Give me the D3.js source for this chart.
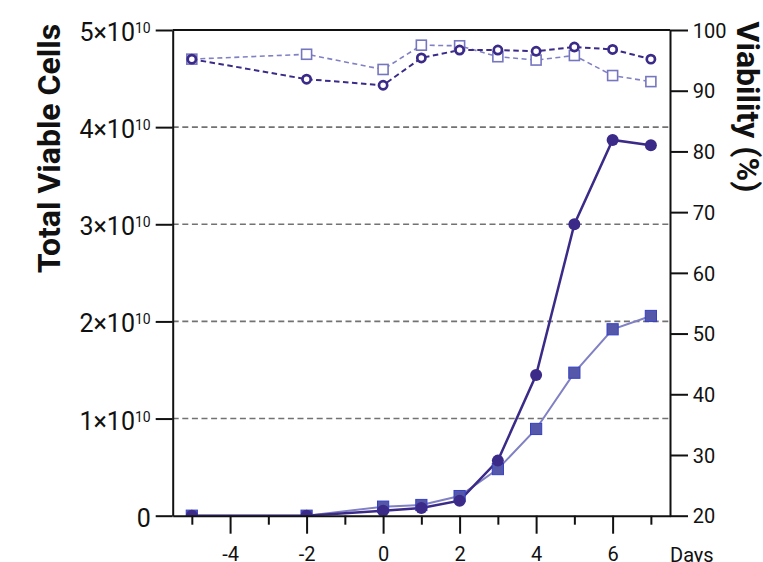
<!DOCTYPE html>
<html>
<head>
<meta charset="utf-8">
<script src="https://cdn.jsdelivr.net/npm/d3@7"></script>
<style>
  html, body { margin: 0; padding: 0; background: #fff; }
  svg { display: block; font-family: Roboto, "Liberation Sans", Arial, sans-serif; }
</style>
</head>
<body>
<svg id="chart" width="763" height="562"></svg>
<script>
// Culture days
const days = [-5, -2, 0, 1, 2, 3, 4, 5, 6, 7];
// Total viable cells (cells), two cultures
const tvcCircle = [0, 0, 0.05e10, 0.08e10, 0.155e10, 0.567e10, 1.448e10, 3.0e10, 3.868e10, 3.813e10];
const tvcSquare = [0, 0, 0.093e10, 0.11e10, 0.202e10, 0.48e10, 0.893e10, 1.472e10, 1.919e10, 2.056e10];
// Viability (%), same two cultures
const viaCircle = [95.2, 91.9, 90.9, 95.4, 96.7, 96.7, 96.5, 97.2, 96.8, 95.2];
const viaSquare = [95.2, 96.0, 93.5, 97.5, 97.4, 95.6, 95.05, 95.8, 92.5, 91.5];
// Tick values
const dayMajorTicks = [-4, -2, 0, 2, 4, 6];
const dayMinorTicks = [-5, -3, -1, 1, 3, 5, 7];
const cellTicks = [0, 1e10, 2e10, 3e10, 4e10, 5e10];
const gridTicks = [1e10, 2e10, 3e10, 4e10];
const viaTicks = [20, 30, 40, 50, 60, 70, 80, 90, 100];

const C_DARK = "#3b2a88";
const C_SQ_FILL = "#5558a8";
const C_SQ_EDGE = "#3540c8";
const C_SQ_LINE = "#8080c4";
const C_SQ_OPEN = "#7676c0";

const svg = d3.select("#chart");
const plotL = 172.7, plotR = 670, plotT = 30, plotB = 515.7;

const x = d3.scaleLinear().domain([-5.5, 7.5]).range([plotL, plotR]);
const yL = d3.scaleLinear().domain([0, 5e10]).range([plotB, plotT]);
const yR = d3.scaleLinear().domain([20, 100]).range([plotB, plotT]);

svg.append("defs").append("clipPath").attr("id", "plotClip")
  .append("rect").attr("x", plotL).attr("y", plotT)
  .attr("width", plotR - plotL).attr("height", plotB - plotT);

// Dashed gridlines
svg.append("g").selectAll("line").data(gridTicks).join("line")
  .attr("x1", plotL).attr("x2", plotR)
  .attr("y1", d => yL(d)).attr("y2", d => yL(d))
  .attr("stroke", "#727272").attr("stroke-width", 1.6)
  .attr("stroke-dasharray", "6,3.6");

// Top frame
svg.append("line").attr("x1", plotL).attr("x2", plotR).attr("y1", plotT).attr("y2", plotT)
  .attr("stroke", "#111").attr("stroke-width", 2);

const plot = svg.append("g").attr("clip-path", "url(#plotClip)");

// Viability series (right axis), dashed with open markers
const idx = d3.range(days.length);
const lineVia = arr => d3.line().x(i => x(days[i])).y(i => yR(arr[i]));
plot.append("path").datum(idx).attr("d", lineVia(viaSquare))
  .attr("fill", "none").attr("stroke", C_SQ_LINE).attr("stroke-width", 1.6)
  .attr("stroke-dasharray", "5,3.5");
plot.append("path").datum(idx).attr("d", lineVia(viaCircle))
  .attr("fill", "none").attr("stroke", C_DARK).attr("stroke-width", 2)
  .attr("stroke-dasharray", "5.5,3.5");
plot.append("g").selectAll("rect").data(idx).join("rect")
  .attr("x", i => x(days[i]) - 5).attr("y", i => yR(viaSquare[i]) - 5)
  .attr("width", 10).attr("height", 10)
  .attr("fill", "#fff").attr("stroke", C_SQ_OPEN).attr("stroke-width", 1.6);
plot.append("g").selectAll("circle").data(idx).join("circle")
  .attr("cx", i => x(days[i])).attr("cy", i => yR(viaCircle[i])).attr("r", 4.1)
  .attr("fill", "#fff").attr("stroke", C_DARK).attr("stroke-width", 2.7);

// Total viable cells (left axis), solid with filled markers
const lineTvc = arr => d3.line().x(i => x(days[i])).y(i => yL(arr[i]));
plot.append("path").datum(idx).attr("d", lineTvc(tvcSquare))
  .attr("fill", "none").attr("stroke", C_SQ_LINE).attr("stroke-width", 2);
plot.append("path").datum(idx).attr("d", lineTvc(tvcCircle))
  .attr("fill", "none").attr("stroke", C_DARK).attr("stroke-width", 2.5);
plot.append("g").selectAll("rect").data(idx).join("rect")
  .attr("x", i => x(days[i]) - 5.6).attr("y", i => yL(tvcSquare[i]) - 5.6)
  .attr("width", 11.2).attr("height", 11.2)
  .attr("fill", C_SQ_FILL).attr("stroke", C_SQ_EDGE).attr("stroke-width", 1);
plot.append("g").selectAll("circle").data(idx).join("circle")
  .attr("cx", i => x(days[i])).attr("cy", i => yL(tvcCircle[i])).attr("r", 6)
  .attr("fill", C_DARK);

// X axis: long ticks with labels on even days, short ticks on odd days
const xMajor = svg.append("g").attr("transform", `translate(0,${plotB})`)
  .call(d3.axisBottom(x).tickValues(dayMajorTicks).tickSize(18).tickSizeOuter(0)
    .tickFormat(d => d));
const xMinor = svg.append("g").attr("transform", `translate(0,${plotB})`)
  .call(d3.axisBottom(x).tickValues(dayMinorTicks).tickSize(9).tickSizeOuter(0)
    .tickFormat(""));
xMinor.select(".domain").remove();
[xMajor, xMinor].forEach(g => {
  g.select(".domain").attr("stroke", "#111").attr("stroke-width", 2);
  g.selectAll(".tick line").attr("stroke", "#111").attr("stroke-width", 2);
});
xMajor.selectAll(".tick text")
  .attr("y", 45.5).attr("dy", null)
  .attr("font-size", 20).attr("font-family", "Roboto, sans-serif").attr("fill", "#111");
svg.append("text").attr("x", 670).attr("y", 561.5)
  .attr("font-size", 20).attr("fill", "#111").text("Days");

// Left axis: Total Viable Cells
const yLeft = svg.append("g").attr("transform", `translate(${plotL},0)`)
  .call(d3.axisLeft(yL).tickValues(cellTicks).tickSize(17).tickSizeOuter(0).tickFormat(""));
yLeft.select(".domain").attr("stroke", "#111").attr("stroke-width", 2);
yLeft.selectAll(".tick line").attr("stroke", "#111").attr("stroke-width", 2);
yLeft.selectAll(".tick").each(function(d) {
  const t = d3.select(this).append("text")
    .attr("x", -22).attr("y", 10.5).attr("text-anchor", "end")
    .attr("font-size", 25).attr("fill", "#111").attr("font-family", "Roboto, sans-serif");
  if (d === 0) {
    t.text("0");
  } else {
    t.append("tspan").text(`${d / 1e10}×10`);
    t.append("tspan").attr("font-size", 14).attr("dy", -8).text("10");
  }
});

// Right axis: Viability (%)
const yRight = svg.append("g").attr("transform", `translate(${plotR},0)`)
  .call(d3.axisRight(yR).tickValues(viaTicks).tickSize(18).tickSizeOuter(0));
yRight.select(".domain").attr("stroke", "#111").attr("stroke-width", 2);
yRight.selectAll(".tick line").attr("stroke", "#111").attr("stroke-width", 2);
yRight.selectAll(".tick text")
  .attr("x", 22.7).attr("dy", null).attr("y", 7.2)
  .attr("font-size", 20).attr("fill", "#111").attr("font-family", "Roboto, sans-serif");

// Axis titles
svg.append("text")
  .attr("transform", "translate(60,148.5) rotate(-90)")
  .attr("text-anchor", "middle").attr("font-size", 32).attr("font-weight", 700)
  .attr("fill", "#111").text("Total Viable Cells");
svg.append("text")
  .attr("transform", "translate(737,107) rotate(90)")
  .attr("text-anchor", "middle").attr("font-size", 32).attr("font-weight", 700)
  .attr("fill", "#111").text("Viability (%)");
</script>
</body>
</html>
